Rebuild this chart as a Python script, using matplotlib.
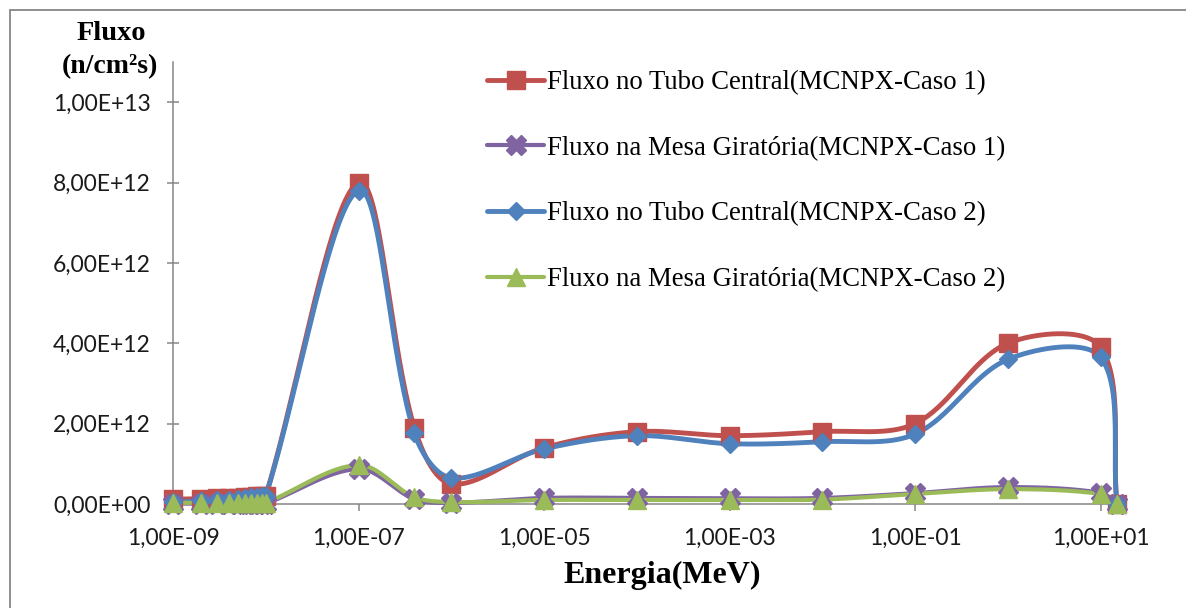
import numpy as np
import matplotlib
matplotlib.use("Agg")
import matplotlib.pyplot as plt
from matplotlib.patches import Rectangle
from matplotlib.ticker import FixedLocator, FuncFormatter

# ---- data ----
energy = [1e-9, 2e-9, 3e-9, 4e-9, 5e-9, 6e-9, 7e-9, 8e-9, 9e-9, 1e-8,
          1e-7, 4e-7, 1e-6, 1e-5, 1e-4, 1e-3, 1e-2, 1e-1, 1e0, 1e1, 1.5e1]

tubo_caso1 = [1.2e11, 1.3e11, 1.4e11, 1.5e11, 1.6e11, 1.7e11, 1.8e11, 1.9e11, 2.0e11, 2.1e11,
              8.0e12, 1.9e12, 5.0e11, 1.4e12, 1.8e12, 1.7e12, 1.8e12, 2.0e12, 4.0e12, 3.9e12, 0.0]
mesa_caso1 = [1.0e10, 1.0e10, 1.0e10, 1.0e10, 1.0e10, 1.0e10, 1.0e10, 1.0e10, 1.0e10, 1.0e10,
              8.7e11, 1.2e11, 3.0e10, 1.5e11, 1.5e11, 1.4e11, 1.5e11, 2.7e11, 4.2e11, 2.8e11, 0.0]
tubo_caso2 = [5.0e10, 7.0e10, 9.0e10, 1.1e11, 1.3e11, 1.5e11, 1.7e11, 1.8e11, 1.9e11, 2.0e11,
              7.8e12, 1.76e12, 6.5e11, 1.37e12, 1.7e12, 1.5e12, 1.55e12, 1.74e12, 3.6e12, 3.65e12, 0.0]
mesa_caso2 = [3.0e10, 3.0e10, 3.0e10, 3.0e10, 3.0e10, 3.0e10, 3.0e10, 3.0e10, 3.0e10, 3.0e10,
              9.7e11, 1.7e11, 5.0e10, 1.0e11, 1.0e11, 1.0e11, 1.1e11, 2.5e11, 3.7e11, 2.5e11, 0.0]

labels = ["Fluxo no Tubo Central(MCNPX-Caso 1)",
          "Fluxo na Mesa Giratória(MCNPX-Caso 1)",
          "Fluxo no Tubo Central(MCNPX-Caso 2)",
          "Fluxo na Mesa Giratória(MCNPX-Caso 2)"]

x_ticks = [1e-9, 1e-7, 1e-5, 1e-3, 1e-1, 1e1]
y_ticks = [0, 2e12, 4e12, 6e12, 8e12, 1e13]

W, H = 1186, 608
fig = plt.figure(figsize=(W / 100, H / 100), dpi=100)
ax = fig.add_axes([173 / W, 1 - 504 / H, (1117 - 173) / W, (504 - 62) / H])
ax.set_xscale("log")
ax.set_xlim(1e-9, 1.5e1)
ax.set_ylim(0, 1.1e13)


def smooth(xs, ys, n=40):
    """Smoothed line through the points (Bezier, tangents scaled by segment lengths),
    computed in display space and mapped back through the axes transform."""
    P = ax.transData.transform(np.column_stack([xs, ys]))
    m = len(P)
    t = np.linspace(0, 1, n)[:, None]
    d = np.linalg.norm(np.diff(P, axis=0), axis=1)
    out = []
    for i in range(m - 1):
        p1, p2 = P[i], P[i + 1]
        if i > 0:
            T1 = P[i + 1] - P[i - 1]
            c1 = p1 + T1 * d[i] / (d[i - 1] + d[i]) / 3.0
        else:
            c1 = p1 + (p2 - p1) / 3.0
        if i + 2 < m:
            T2 = P[i + 2] - P[i]
            c2 = p2 - T2 * d[i] / (d[i] + d[i + 1]) / 3.0
        else:
            c2 = p2 - (p2 - p1) / 3.0
        seg = ((1 - t) ** 3) * p1 + 3 * ((1 - t) ** 2) * t * c1 + 3 * (1 - t) * t ** 2 * c2 + t ** 3 * p2
        out.append(seg if i == 0 else seg[1:])
    S = ax.transData.inverted().transform(np.vstack(out))
    return S[:, 0], S[:, 1]


series = [
    (tubo_caso1, "#C0504D", "s", 12.5, 3.5),
    (mesa_caso1, "#8064A2", "X", 15, 3.0),
    (tubo_caso2, "#4F81BD", "D", 9.5, 3.5),
    (mesa_caso2, "#9BBB59", "^", 12.5, 3.0),
]

handles = []
for (ys, col, mk, ms, lw), lab in zip(series, labels):
    sx, sy = smooth(energy, ys)
    ax.plot(sx, sy, color=col, lw=lw, solid_capstyle="round", clip_on=False, zorder=3)
    ax.plot(energy, ys, linestyle="none", marker=mk, markersize=ms, color=col,
            markeredgecolor=col, clip_on=False, zorder=4)
    h, = ax.plot([], [], color=col, lw=lw, marker=mk, markersize=ms,
                 markeredgecolor=col, solid_capstyle="round")
    handles.append(h)

ax.xaxis.set_major_locator(FixedLocator(x_ticks))
ax.xaxis.set_minor_locator(FixedLocator([]))
ax.yaxis.set_major_locator(FixedLocator(y_ticks))


def sci_comma(v, pos=None):
    if v == 0:
        return "0,00E+00"
    e = int(np.floor(np.log10(abs(v)) + 1e-9))
    mant = v / 10 ** e
    s = f"{mant:.2f}".replace(".", ",")
    sign = "+" if e >= 0 else "-"
    return f"{s}E{sign}{abs(e):02d}"


ax.xaxis.set_major_formatter(FuncFormatter(sci_comma))
ax.yaxis.set_major_formatter(FuncFormatter(sci_comma))

gray = "#868686"
for s in ["top", "right"]:
    ax.spines[s].set_visible(False)
for s in ["left", "bottom"]:
    ax.spines[s].set_color(gray)
    ax.spines[s].set_linewidth(1.1)

ax.tick_params(axis="y", direction="inout", length=8, width=1.1, color=gray,
               labelsize=16.5, pad=12)
ax.tick_params(axis="x", direction="out", length=5, width=1.1, color=gray,
               labelsize=16.5, pad=12)
for lbl in ax.get_xticklabels() + ax.get_yticklabels():
    lbl.set_fontfamily("Lato")
    lbl.set_color("#1a1a1a")

ax.patch.set_alpha(0)

leg = fig.legend(handles, labels, loc="upper left",
                 bbox_to_anchor=(487 / W, 1 - 70 / H), frameon=False,
                 prop={"family": "Liberation Serif", "size": 19.3},
                 handlelength=2.13, handletextpad=0.1, labelspacing=1.52,
                 borderpad=0, borderaxespad=0)

fig.text(111 / W, 1 - 34 / H, "Fluxo", ha="center", va="center",
         fontfamily="Liberation Serif", fontweight="bold", fontsize=20.5)
fig.text(110 / W, 1 - 67 / H, "(n/cm²s)", ha="center", va="center",
         fontfamily="Liberation Serif", fontweight="bold", fontsize=20)
fig.text(662 / W, 1 - 575 / H, "Energia(MeV)", ha="center", va="center",
         fontfamily="Liberation Serif", fontweight="bold", fontsize=23)

fig.patches.append(Rectangle((10 / W, -0.1), 1.2, 1 - 10 / H + 0.1,
                             transform=fig.transFigure, fill=False,
                             edgecolor=gray, linewidth=1.3, zorder=0))

fig.savefig("out.png", dpi=100)
